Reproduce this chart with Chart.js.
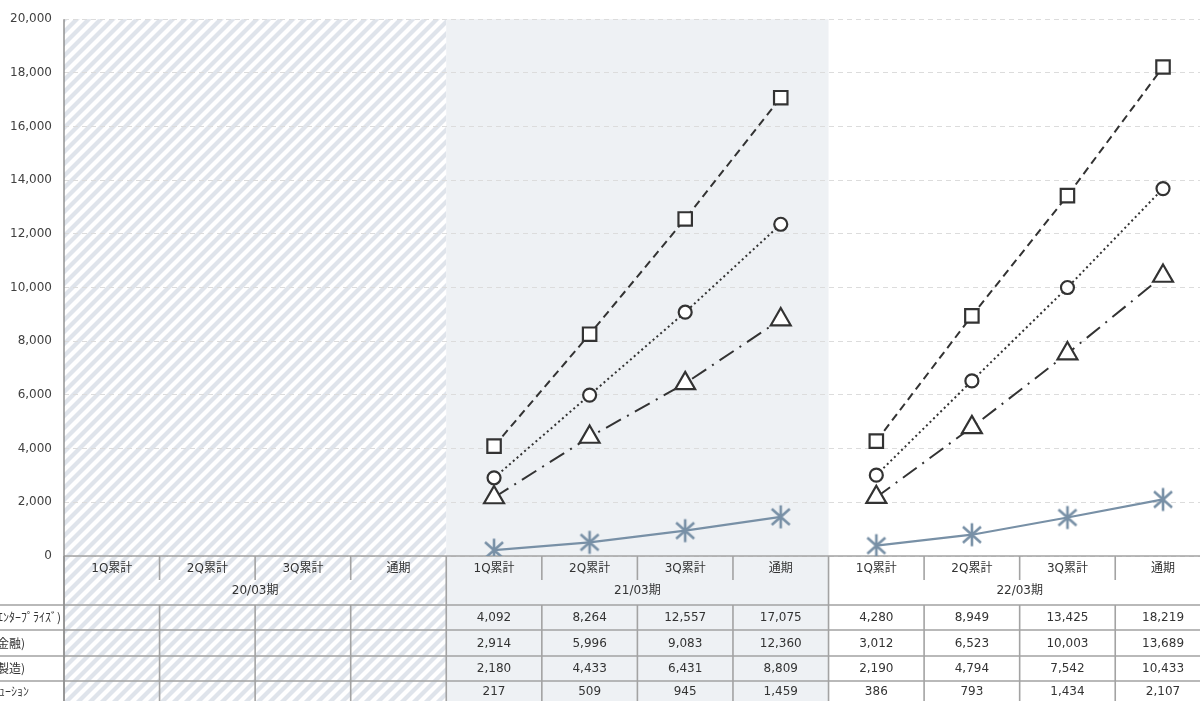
<!DOCTYPE html>
<html><head><meta charset="utf-8">
<script src="https://cdn.jsdelivr.net/npm/chart.js@4.4.1/dist/chart.umd.min.js"></script>
<style>
html,body{margin:0;padding:0;overflow:hidden;background:#fff;width:1200px;height:701px}
#wrap{position:absolute;left:0;top:0;width:1225px;height:701px}
</style>
</head><body><div id="wrap"><canvas id="c" width="1225" height="701"></canvas></div>
<script>
// ---- data ----
const periods = ['20/03期', '21/03期', '22/03期'];
const quarters = ['1Q累計', '2Q累計', '3Q累計', '通期'];
const categories = periods.flatMap(p => quarters.map(q => p + ' ' + q));
const rowLabels = ['ライセンス(ｴﾝﾀｰﾌﾟﾗｲｽﾞ)', 'ライセンス(金融)', 'ライセンス(製造)', 'ｺﾝｻﾙﾃｨﾝｸﾞｿﾘｭｰｼｮﾝ'];
const enterprise    = [null, null, null, null, 4092, 8264, 12557, 17075, 4280, 8949, 13425, 18219];
const finance       = [null, null, null, null, 2914, 5996, 9083, 12360, 3012, 6523, 10003, 13689];
const manufacturing = [null, null, null, null, 2180, 4433, 6431, 8809, 2190, 4794, 7542, 10433];
const solution      = [null, null, null, null, 217, 509, 945, 1459, 386, 793, 1434, 2107];
const yMin = 0, yMax = 20000, yStep = 2000;

// ---- styling helpers ----
const FONT = '"DejaVu Sans", "Noto Sans CJK JP", sans-serif';
const DARK = '#333333';
const BLUE = '#7890a6';

function makeHatch() {
  const T = 12;
  const p = document.createElement('canvas');
  p.width = T; p.height = T;
  const g = p.getContext('2d');
  g.fillStyle = '#ffffff'; g.fillRect(0, 0, T, T);
  g.strokeStyle = '#dfe4eb'; g.lineWidth = 4.2;
  [[-T, T, T, -T], [0, T, T, 0], [0, 2 * T, 2 * T, 0]].forEach(([a, b, c, d]) => {
    g.beginPath(); g.moveTo(a, b); g.lineTo(c, d); g.stroke();
  });
  return p;
}
function makeStar() {
  const s = document.createElement('canvas');
  s.width = 26; s.height = 26;
  const g = s.getContext('2d');
  g.strokeStyle = BLUE; g.lineWidth = 2.6; g.lineCap = 'butt';
  g.beginPath();
  g.moveTo(13, 1.5); g.lineTo(13, 24.5);
  g.moveTo(4, 5); g.lineTo(22, 21);
  g.moveTo(4, 21); g.lineTo(22, 5);
  g.stroke();
  return s;
}
const starImg = makeStar();

const fmt = v => v == null ? '' : v.toLocaleString('en-US');
const seriesList = [enterprise, finance, manufacturing, solution];

function catLeft(x, i) {
  const w = x.getPixelForValue(1) - x.getPixelForValue(0);
  return x.getPixelForValue(i) - w / 2;
}

const bgPlugin = {
  id: 'bg',
  beforeDraw(chart) {
    const { ctx, chartArea, scales: { x } } = chart;
    const H = chart.height;
    const x0 = catLeft(x, 0), x4 = catLeft(x, 4), x8 = catLeft(x, 8);
    ctx.save();
    ctx.fillStyle = ctx.createPattern(makeHatch(), 'repeat');
    ctx.fillRect(x0, chartArea.top, x4 - x0, H - chartArea.top);
    ctx.fillStyle = '#eef1f4';
    ctx.fillRect(x4, chartArea.top, x8 - x4, H - chartArea.top);
    ctx.restore();
  }
};

const tablePlugin = {
  id: 'table',
  beforeDatasetsDraw(chart) {
    const { ctx, chartArea, scales: { x } } = chart;
    const H = chart.height;
    const n = categories.length;
    const top = chartArea.bottom;
    const rowY = [top, top + 49, top + 74, top + 100, top + 125, H];
    const bounds = [];
    for (let i = 0; i <= n; i++) bounds.push(catLeft(x, i));
    ctx.save();
    ctx.strokeStyle = '#a3a3a3';
    ctx.lineWidth = 1.6;
    ctx.beginPath();
    ctx.moveTo(bounds[0], rowY[0]); ctx.lineTo(bounds[n], rowY[0]);
    for (let r = 1; r <= 4; r++) { ctx.moveTo(0, rowY[r]); ctx.lineTo(bounds[n], rowY[r]); }
    ctx.stroke();
    ctx.beginPath();
    for (let i = 0; i <= n; i++) {
      const bx = bounds[i];
      if (i % 4 === 0) { ctx.moveTo(bx, rowY[0]); ctx.lineTo(bx, H); }
      else {
        ctx.moveTo(bx, rowY[0]); ctx.lineTo(bx, rowY[0] + 24);
        ctx.moveTo(bx, rowY[1]); ctx.lineTo(bx, H);
      }
    }
    ctx.stroke();
    ctx.strokeStyle = '#8c8c8c';
    ctx.lineWidth = 1.4;
    ctx.beginPath(); ctx.moveTo(bounds[0], chartArea.top); ctx.lineTo(bounds[0], H); ctx.stroke();

    ctx.fillStyle = DARK;
    ctx.textAlign = 'center';
    ctx.textBaseline = 'middle';
    ctx.font = '12px ' + FONT;
    for (let i = 0; i < n; i++) {
      const cx = x.getPixelForValue(i);
      ctx.fillText(quarters[i % 4], cx, rowY[0] + 13);
      seriesList.forEach((s, r) => ctx.fillText(fmt(s[i]), cx, (rowY[r + 1] + rowY[r + 2]) / 2 + 0.5));
    }
    periods.forEach((p, k) => {
      const cx = (bounds[k * 4] + bounds[k * 4 + 4]) / 2;
      ctx.fillText(p, cx, rowY[0] + 35);
    });
    ctx.font = '12px "Noto Sans CJK JP", sans-serif';
    ctx.textAlign = 'left';
    const startX = 61 - ctx.measureText(rowLabels[0]).width;
    rowLabels.forEach((l, r) => ctx.fillText(l, startX, (rowY[r + 1] + rowY[r + 2]) / 2));
    ctx.restore();
  }
};

const mk = (label, data, opts) => Object.assign({
  label, data,
  borderColor: DARK,
  borderWidth: 2,
  backgroundColor: '#ffffff',
  pointBackgroundColor: '#ffffff',
  pointBorderColor: DARK,
  pointBorderWidth: 2.2,
  spanGaps: false,
  tension: 0,
  segment: { borderColor: c => c.p0DataIndex === 7 ? 'rgba(0,0,0,0)' : undefined }
}, opts);

new Chart(document.getElementById('c'), {
  type: 'line',
  data: {
    labels: categories,
    datasets: [
      mk('エンタープライズ', enterprise, { borderDash: [8, 5], pointStyle: 'rect', pointRadius: 9.5, pointHoverRadius: 9.5 }),
      mk('金融', finance, { borderDash: [2, 3], pointStyle: 'circle', pointRadius: 6.5, pointHoverRadius: 6.5 }),
      mk('製造', manufacturing, { borderDash: [17, 7, 2, 7], pointStyle: 'triangle', pointRadius: 11.5, pointHoverRadius: 11.5 }),
      mk('ソリューション', solution, { borderColor: BLUE, borderWidth: 2.2, pointStyle: starImg, pointBorderColor: BLUE, pointRadius: 12 })
    ]
  },
  options: {
    responsive: false,
    animation: false,
    layout: { padding: { top: 18, right: 5, bottom: 145, left: 0 } },
    plugins: { legend: { display: false }, tooltip: { enabled: false } },
    scales: {
      x: { type: 'category', offset: true, display: false },
      y: {
        min: yMin, max: yMax,
        ticks: { stepSize: yStep, color: '#404040', font: { size: 12, family: FONT }, padding: 12,
                 callback: v => v.toLocaleString('en-US') },
        grid: { color: '#dcdcdc', lineWidth: 1, drawTicks: false },
        border: { display: false, dash: [5, 4] },
        afterFit: s => { s.width = 64; }
      }
    }
  },
  plugins: [bgPlugin, tablePlugin]
});
</script>
</body></html>
